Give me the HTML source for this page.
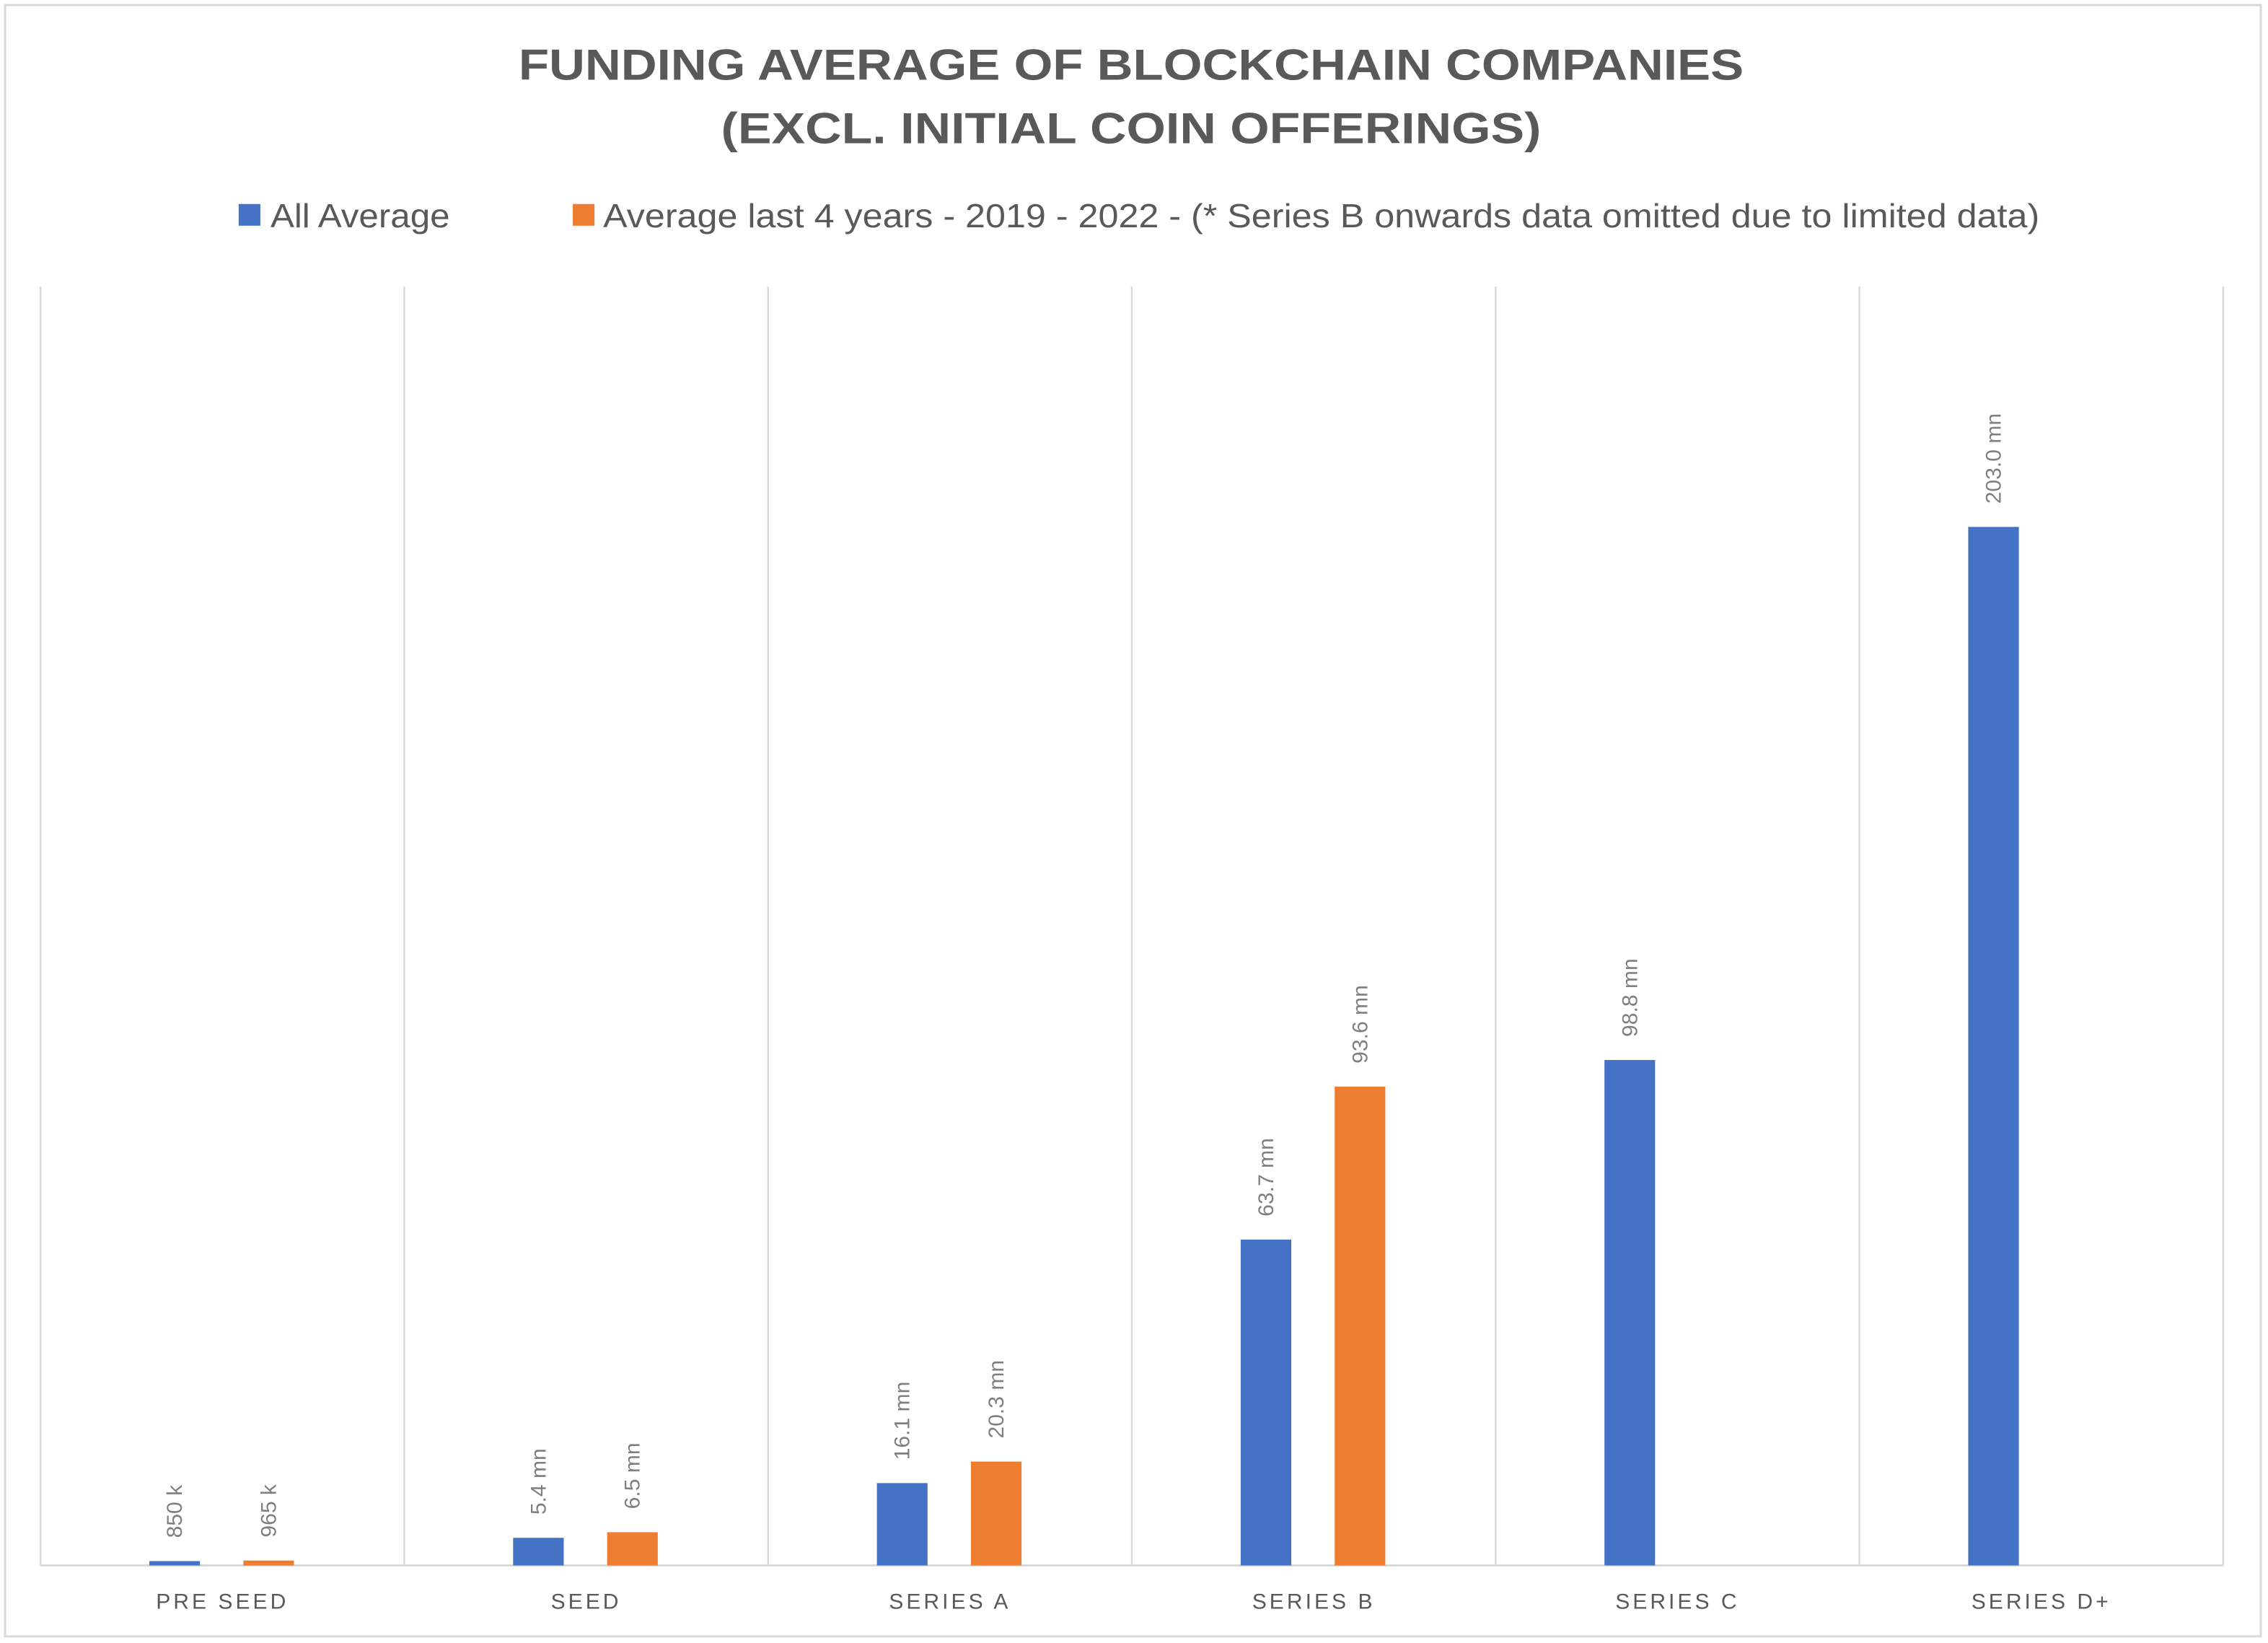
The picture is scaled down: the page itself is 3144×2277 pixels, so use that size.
<!DOCTYPE html>
<html><head><meta charset="utf-8"><style>
html,body{margin:0;padding:0;background:#fff;}
svg{display:block;}
text{font-family:"Liberation Sans",sans-serif;}
</style></head><body>
<svg id="chart" width="3144" height="2277" viewBox="0 0 1568 1135.6" preserveAspectRatio="none" xmlns="http://www.w3.org/2000/svg">
<rect x="3.5" y="3.5" width="1559.5" height="1127.5" fill="#fff" stroke="#d9d9d9" stroke-width="1.5"/>
<text x="782" y="55" text-anchor="middle" font-size="30" font-weight="bold" fill="#595959" textLength="847" lengthAdjust="spacingAndGlyphs">FUNDING AVERAGE OF BLOCKCHAIN COMPANIES</text>
<text x="782" y="99" text-anchor="middle" font-size="30" font-weight="bold" fill="#595959" textLength="567" lengthAdjust="spacingAndGlyphs">(EXCL. INITIAL COIN OFFERINGS)</text>
<g>
<rect x="165" y="141" width="15" height="15" fill="#4472c4"/>
<text x="187" y="157" font-size="23" fill="#595959" textLength="124" lengthAdjust="spacingAndGlyphs">All Average</text>
<rect x="396" y="141" width="15" height="15" fill="#ed7d31"/>
<text x="417" y="157" font-size="23" fill="#595959" textLength="993" lengthAdjust="spacingAndGlyphs">Average last 4 years - 2019 - 2022 - (* Series B onwards data omitted due to limited data)</text>
</g>
<g id="plot"></g>
</svg>
<script>
const categories = ["PRE SEED","SEED","SERIES A","SERIES B","SERIES C","SERIES D+"];
const allAverage = [0.85, 5.4, 16.1, 63.7, 98.8, 203.0];
const last4Years = [0.965, 6.5, 20.3, 93.6, null, null];
const allLabels = ["850 k","5.4 mn","16.1 mn","63.7 mn","98.8 mn","203.0 mn"];
const last4Labels = ["965 k","6.5 mn","20.3 mn","93.6 mn","",""];

const NS = "http://www.w3.org/2000/svg";
const plot = document.getElementById('plot');
const L = 28, R = 1537, TOP = 198, BASE = 1082, YMAX = 250;
const cw = (R - L) / categories.length;
function xCat(i){ return L + cw * (i + 0.5); }
function y(v){ return BASE - (v / YMAX) * (BASE - TOP); }
function mk(tag, attrs){ const e = document.createElementNS(NS, tag); for (const k in attrs) e.setAttribute(k, attrs[k]); plot.appendChild(e); return e; }

for (let i = 0; i <= categories.length; i++) {
  const g = mk('line', {x1: L + cw*i, x2: L + cw*i, y1: TOP, y2: BASE, stroke: '#d9d9d9', 'stroke-width': 1.2});
  
  
}
const ax = mk('line', {x1: L, x2: R, y1: BASE, y2: BASE, stroke: '#d9d9d9', 'stroke-width': 1.5});



const BW = 35;
function drawBar(v, cx, color, label, name){
  if (v == null) return;
  const b = mk('rect', {x: cx - BW/2, y: y(v), width: BW, height: BASE - y(v), fill: color});
  
  
  const ty = y(v) - 16;
  const t = mk('text', {x: cx + 5, y: ty, 'font-size': 15, fill: '#7f7f7f', transform: 'rotate(-90 ' + (cx + 5) + ' ' + ty + ')'});
  t.textContent = label;
  
  
}
categories.forEach((c, i) => {
  const cx = xCat(i);
  drawBar(allAverage[i], cx - 33, '#4472c4', allLabels[i], 'bar-all-average-' + i);
  drawBar(last4Years[i], cx + 32, '#ed7d31', last4Labels[i], 'bar-last-4-years-' + i);
  const t = mk('text', {x: cx, y: 1112, 'font-size': 15, fill: '#595959', 'text-anchor': 'middle', 'letter-spacing': 2});
  t.textContent = c;
  
  
});
</script>
</body></html>
